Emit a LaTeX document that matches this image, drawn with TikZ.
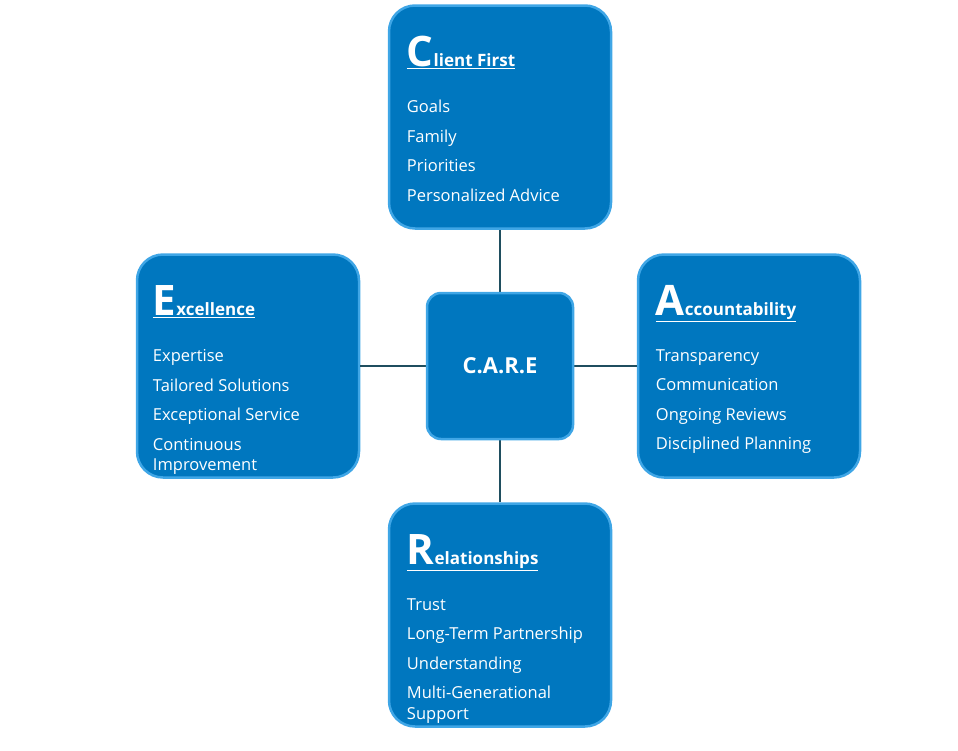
\documentclass[tikz,border=0pt]{standalone}
\usepackage{fontspec}
\setmainfont{Open Sans}
\usetikzlibrary{positioning}
\definecolor{careblue}{HTML}{0077BF}
\definecolor{careedge}{HTML}{3FA6E6}
\definecolor{careline}{HTML}{1F4E5F}
\tikzset{
  box/.style={draw=careedge, line width=2.5pt, fill=careblue, rounded corners=26pt,
    minimum width=222pt, minimum height=223pt, inner sep=0pt},
  hub/.style={draw=careedge, line width=2.5pt, fill=careblue, rounded corners=14pt,
    minimum width=146pt, minimum height=146pt, inner sep=0pt,
    font=\bfseries\fontsize{22}{26}\selectfont, text=white},
  title/.style={anchor=base west, inner sep=0pt, text=white},
  items/.style={anchor=north west, inner sep=0pt, text=white, align=flush left, text width=196pt,
    font=\fontsize{16.5}{20.5}\selectfont},
  link/.style={careline, line width=2pt}
}
\newcommand{\headline}[2]{\underline{{\bfseries\fontsize{42}{42}\selectfont #1}{\bfseries\fontsize{17}{20}\selectfont #2}}}
\begin{document}
\hyphenpenalty=10000
\exhyphenpenalty=10000
\begin{tikzpicture}[x=1pt,y=-1pt]
\useasboundingbox (0,0) rectangle (958,750);
% connectors first
\coordinate (mid) at (500,366);
\node[box] (client) at (500,117) {};
\node[box] (excel) at (248,366) {};
\node[box] (account) at (749,366) {};
\node[box] (relation) at (500,615) {};
\draw[link] (client) -- (relation);
\draw[link] (excel) -- (account);
\node[hub] (care) at (mid) {C.A.R.E};

\node[title] at ([xshift=19pt,yshift=-62pt]client.north west) {\headline{C}{lient First}};
\node[items] at ([xshift=19pt,yshift=-96pt]client.north west)
  {Goals\\[9pt]Family\\[9pt]Priorities\\[9pt]Personalized Advice};

\node[title] at ([xshift=17pt,yshift=-62pt]excel.north west) {\headline{E}{xcellence}};
\node[items] at ([xshift=17pt,yshift=-96pt]excel.north west)
  {Expertise\\[9pt]Tailored Solutions\\[9pt]Exceptional Service\\[9pt]Continuous Improvement};

\node[title] at ([xshift=19pt,yshift=-62pt]account.north west) {\headline{A}{ccountability}};
\node[items] at ([xshift=19pt,yshift=-96pt]account.north west)
  {Transparency\\[9pt]Communication\\[9pt]Ongoing Reviews\\[9pt]Disciplined Planning};

\node[title] at ([xshift=19pt,yshift=-62pt]relation.north west) {\headline{R}{elationships}};
\node[items] at ([xshift=19pt,yshift=-96pt]relation.north west)
  {Trust\\[9pt]Long-Term Partnership\\[9pt]Understanding\\[9pt]Multi-Generational Support};
\end{tikzpicture}
\end{document}
